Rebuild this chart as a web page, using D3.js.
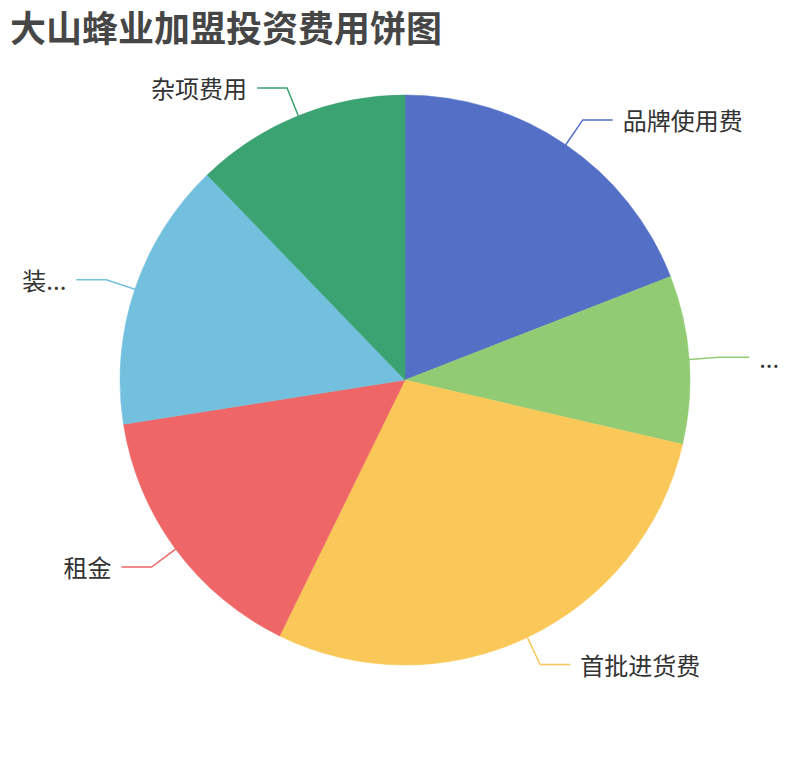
<!DOCTYPE html>
<html>
<head>
<meta charset="utf-8">
<script src="https://cdn.jsdelivr.net/npm/d3@7"></script>
<style>
  body { margin: 0; background: #fff; }
  text { font-family: "Noto Sans CJK SC", "Noto Sans", sans-serif; }
</style>
</head>
<body>
<div id="chart"></div>
<script>
// data
var categories = ["品牌使用费", "加盟费", "首批进货费", "租金", "装修费用", "杂项费用"];
var values = [5, 2.5, 7.5, 4, 4, 3.2];
var titleText = "大山蜂业加盟投资费用饼图";

// palette
var palette = ["#5470c6", "#91cc75", "#fac858", "#ee6666", "#73c0de", "#3ba272"];

var width = 810, height = 760;
var radius = Math.min(width, height) / 2 * 0.75;
var len1 = 30, len2 = 30, gap = 10, edgeMargin = 20;

var svg = d3.select("#chart")
  .append("svg")
    .attr("width", width)
    .attr("height", height);

svg.append("text")
  .attr("x", 10)
  .attr("y", 26)
  .attr("dominant-baseline", "central")
  .style("font-size", "36px")
  .style("font-weight", "bold")
  .style("fill", "#464646")
  .text(titleText);

var color = d3.scaleOrdinal().domain(categories).range(palette);

var pie = d3.pie().sort(null).value(function(d) { return d.value; });
var data = categories.map(function(c, i) { return {name: c, value: values[i]}; });
var arcs = pie(data);

var g = svg.append("g")
  .attr("transform", "translate(" + width / 2 + "," + height / 2 + ")");

var arc = d3.arc().innerRadius(0).outerRadius(radius);

g.selectAll("path.slice")
  .data(arcs)
  .enter()
  .append("path")
    .attr("class", "slice")
    .attr("d", arc)
    .style("fill", function(d) { return color(d.data.name); })
    .style("stroke", function(d) { return color(d.data.name); })
    .style("stroke-width", 0.5);

// label lines + labels
arcs.forEach(function(d) {
  var mid = (d.startAngle + d.endAngle) / 2;
  var sx = Math.sin(mid), sy = -Math.cos(mid);
  var p0 = [radius * sx, radius * sy];
  var p1 = [(radius + len1) * sx, (radius + len1) * sy];
  var right = sx >= 0;
  var p2 = [p1[0] + (right ? len2 : -len2), p1[1]];

  g.append("polyline")
    .attr("points", [p0, p1, p2].map(function(p) { return p.join(","); }).join(" "))
    .style("fill", "none")
    .style("stroke", color(d.data.name))
    .style("stroke-width", 1.5);

  var tx = p2[0] + (right ? gap : -gap);
  var label = g.append("text")
    .attr("x", tx)
    .attr("y", p2[1])
    .attr("dominant-baseline", "central")
    .attr("text-anchor", right ? "start" : "end")
    .style("font-size", "24px")
    .style("fill", "#333")
    .text(d.data.name);

  // truncate to the room left before the chart edge
  var absX = width / 2 + tx;
  var room = right ? width - absX - edgeMargin : absX - edgeMargin;
  var name = d.data.name;
  if (label.node().getComputedTextLength() > room) {
    var n = name.length;
    while (n > 0) {
      label.text(name.slice(0, n) + "...");
      if (label.node().getComputedTextLength() <= room) break;
      n--;
    }
    if (n === 0) label.text("...");
  }
});
</script>
</body>
</html>
